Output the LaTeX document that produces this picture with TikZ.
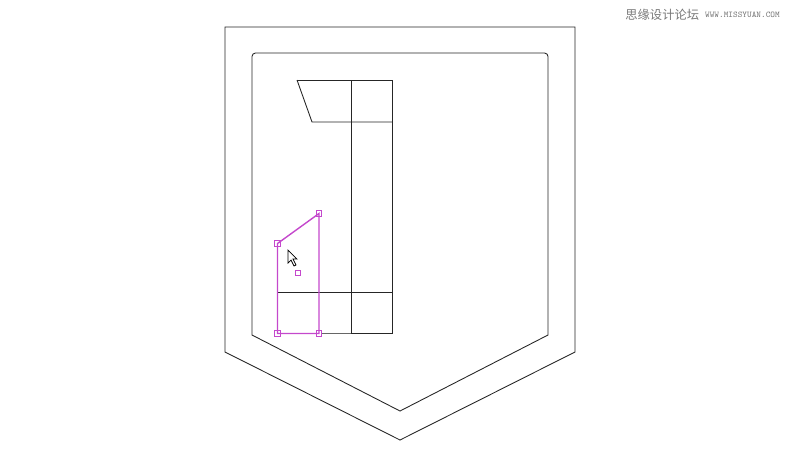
\documentclass[tikz,border=0pt]{standalone}
\usepackage{fontspec}
\newfontfamily\cjk{Noto Sans CJK SC}
\usetikzlibrary{positioning}
\definecolor{selpink}{RGB}{196,72,204}
\definecolor{markgray}{RGB}{120,120,120}
\tikzset{
outline/.style={
  line width=0.5pt,
  draw=black!85,
  }
}
\tikzset{
selline/.style={
  line width=0.8pt,
  draw=selpink,
  }
}
\tikzset{
handle/.style={
  rectangle,
  draw=selpink,
  fill=white,
  line width=0.5pt,
  inner sep=0pt,
  minimum size=3pt,
  }
}

\begin{document}
\begin{tikzpicture}[x=0.02cm,y=-0.02cm]
    \useasboundingbox (0,0) rectangle (800,471);

    % shield
    \draw[outline] (225,27) -- (575,27) -- (575,352) -- (400,440) -- (225,352) -- cycle;
    \draw[outline] (252,335) -- (252,150) [rounded corners=2pt] -- (252,53) -- (548,53) -- (548,150) [sharp corners] -- (548,335) -- (400,411) -- cycle;

    % letter part
    \coordinate (tl) at (297,80);
    \coordinate (tm) at (351,80);
    \coordinate (tr) at (392,80);
    \coordinate (ml) at (312,122);
    \coordinate (mm) at (351,122);
    \coordinate (mr) at (392,122);
    \coordinate (lm) at (351,333);
    \coordinate (lr) at (392,333);
    \coordinate (bl) at (277,292);
    \coordinate (br) at (392,292);
    \draw[outline] (tl) -- (tr) -- (lr) -- (lm) -- (tm);
    \draw[outline] (tl) -- (ml) -- (mr);
    \draw[outline] (bl) -- (br);
    \draw[outline, draw=black!60] (319,333) -- (lm);

    % selected part
    \node[handle] (p1) at (277.5,243.5) {};
    \node[handle] (p2) at (319,213.5) {};
    \node[handle] (p3) at (319,333.5) {};
    \node[handle] (p4) at (277.5,333.5) {};
    \draw[selline] (p1.center) -- (p2.center) -- (p3.center) -- (p4.center) -- cycle;
    \node[handle, minimum size=2.5pt] (ctr) at (298,273) {};

    % cursor
    \draw[black, fill=white, line width=0.4pt] (288,250) -- (288,263) -- (291,260) -- (294,266) -- (296,265) -- (293,259) -- (297,259) -- cycle;

    % watermark
    \node[anchor=west, text=markgray, inner sep=0pt, font=\cjk\fontsize{7}{8}\selectfont] (mark) at (625,15) {思缘设计论坛};
    \node[right=3pt of mark, text=markgray, inner sep=0pt, font=\ttfamily\fontsize{5}{5}\selectfont] (site) {WWW.MISSYUAN.COM};
  \end{tikzpicture}
\end{document}
